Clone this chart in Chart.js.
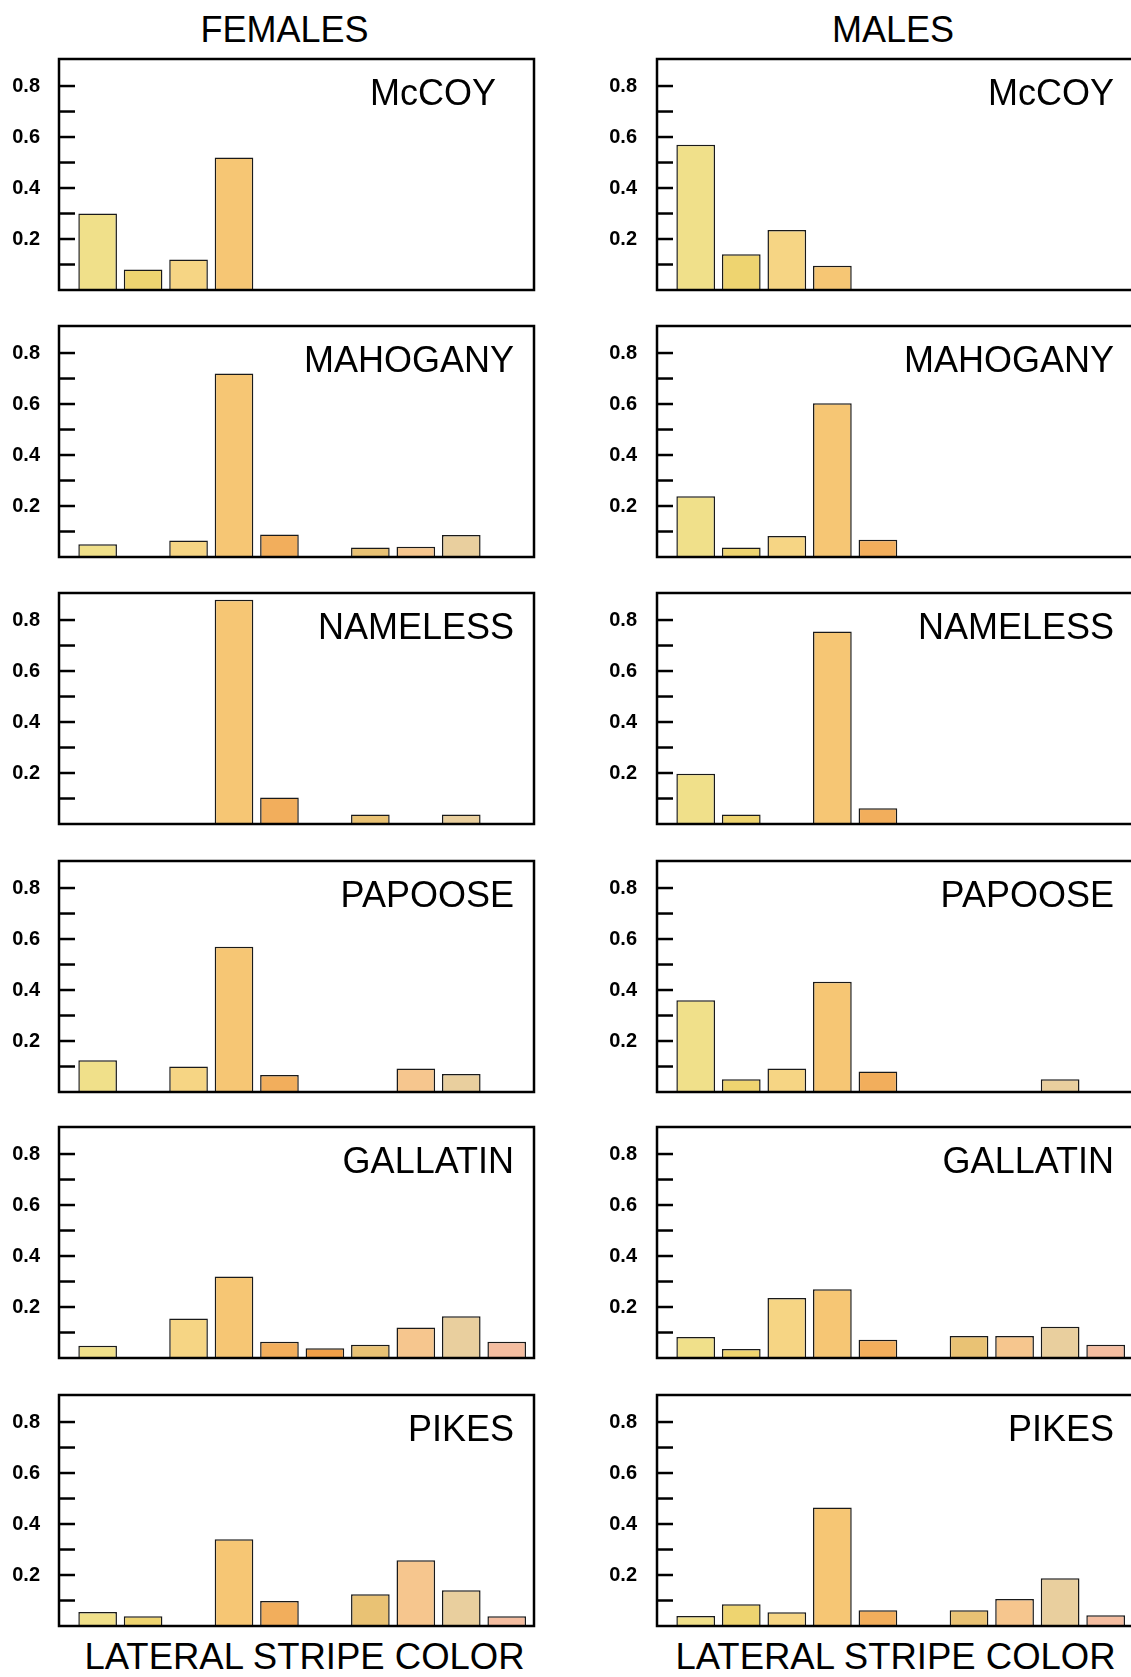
<!DOCTYPE html>
<html>
<head>
<meta charset="utf-8">
<script src="https://cdn.jsdelivr.net/npm/chart.js@4.4.1/dist/chart.umd.min.js"></script>
<style>
  html, body { margin:0; padding:0; background:#fff; }
  body { width:1131px; height:1677px; overflow:hidden; position:relative; font-family:"Liberation Sans", Arial, sans-serif; color:#000; }
  canvas { position:absolute; }
  .txt { position:absolute; font-size:36px; line-height:36px; white-space:nowrap; transform:translateX(-50%); }
  .xt { font-size:36.5px; }
</style>
</head>
<body>
<div class="txt" id="hF" style="left:284.5px; top:11.5px;"></div>
<div class="txt" id="hM" style="left:893px; top:11.5px;"></div>
<div class="txt xt" id="xF" style="left:304.5px; top:1639px;"></div>
<div class="txt xt" id="xM" style="left:895.5px; top:1639px;"></div>
<script>
// ---------- DATA ----------
const colorClasses = [1, 2, 3, 4, 5, 6, 7, 8, 9, 10];           // lateral stripe colour classes (x categories)
const populations  = ['McCOY', 'MAHOGANY', 'NAMELESS', 'PAPOOSE', 'GALLATIN', 'PIKES'];
const sexes        = ['FEMALES', 'MALES'];
const xAxisTitle   = 'LATERAL STRIPE COLOR';
const yTickLabels  = [0.2, 0.4, 0.6, 0.8];
const yTickMarks   = [0.1, 0.2, 0.3, 0.4, 0.5, 0.6, 0.7, 0.8];

const femaleMcCoy    = [0.30, 0.08, 0.12, 0.52, null, null, null, null, null, null];
const femaleMahogany = [0.05, null, 0.065, 0.72, 0.088, null, 0.037, 0.04, 0.086, null];
const femaleNameless = [null, null, null, 0.88, 0.104, null, 0.037, null, 0.037, null];
const femalePapoose  = [0.125, null, 0.10, 0.57, 0.067, null, null, 0.092, 0.071, null];
const femaleGallatin = [0.048, null, 0.155, 0.32, 0.064, 0.038, 0.052, 0.12, 0.164, 0.064];
const femalePikes    = [0.055, 0.038, null, 0.34, 0.098, null, 0.125, 0.258, 0.14, 0.038];

const maleMcCoy      = [0.57, 0.14, 0.235, 0.095, null, null, null, null, null, null];
const maleMahogany   = [0.238, 0.037, 0.082, 0.603, 0.068, null, null, null, null, null];
const maleNameless   = [0.197, 0.037, null, 0.755, 0.062, null, null, null, null, null];
const malePapoose    = [0.36, 0.05, 0.092, 0.432, 0.08, null, null, null, 0.05, null];
const maleGallatin   = [0.082, 0.035, 0.235, 0.27, 0.072, null, 0.086, 0.086, 0.123, 0.052];
const malePikes      = [0.039, 0.085, 0.054, 0.465, 0.062, null, 0.062, 0.106, 0.187, 0.042];

const femaleSeries = [femaleMcCoy, femaleMahogany, femaleNameless, femalePapoose, femaleGallatin, femalePikes];
const maleSeries   = [maleMcCoy, maleMahogany, maleNameless, malePapoose, maleGallatin, malePikes];

// ---------- STYLE / LAYOUT ----------
const stripeColors = ['#F0E08A', '#EED470', '#F6D584', '#F6C674', '#F2AE5C',
                      '#F09F48', '#E9C274', '#F6C68E', '#E9CF9E', '#F4BDA0'];
const rowTops = [59, 325.5, 593, 860.5, 1127, 1394.5];
const PLOT_H = 231, PAD = 20;
const columns = [
  { left: 0,   width: 560, axisW: 59, labelPad: 19, padRight: 26, insets: [38, 20, 20, 20, 20, 20] },
  { left: 600, width: 533, axisW: 57, labelPad: 20, padRight: 0,  insets: [19, 19, 19, 19, 19, 19] }
];
const FONT = '"Liberation Sans", Arial, sans-serif';

document.getElementById('hF').textContent = sexes[0];
document.getElementById('hM').textContent = sexes[1];
document.getElementById('xF').textContent = xAxisTitle;
document.getElementById('xM').textContent = xAxisTitle;

const panelDeco = {
  id: 'panelDeco',
  afterDraw(chart, args, o) {
    const { ctx, chartArea: a, scales: { y } } = chart;
    ctx.save();
    ctx.strokeStyle = '#000';
    ctx.lineWidth = 2.5;
    yTickMarks.forEach(v => {
      const py = y.getPixelForValue(v);
      ctx.beginPath();
      ctx.moveTo(a.left, py);
      ctx.lineTo(a.left + 16, py);
      ctx.stroke();
    });
    ctx.lineWidth = 2.5;
    ctx.strokeRect(a.left, a.top, a.right - a.left, a.bottom - a.top);
    ctx.fillStyle = '#000';
    ctx.font = '36px ' + FONT;
    ctx.textAlign = 'right';
    ctx.textBaseline = 'alphabetic';
    ctx.fillText(o.title, a.right - o.inset, a.top + 46);
    ctx.restore();
  }
};

Chart.defaults.font.family = FONT;

[femaleSeries, maleSeries].forEach((seriesList, c) => {
  const col = columns[c];
  seriesList.forEach((vals, r) => {
    const cv = document.createElement('canvas');
    const h = PLOT_H + 2 * PAD;
    cv.width = col.width; cv.height = h;
    cv.style.left = col.left + 'px';
    cv.style.top = (rowTops[r] - PAD) + 'px';
    cv.style.width = col.width + 'px'; cv.style.height = h + 'px';
    document.body.appendChild(cv);

    new Chart(cv, {
      type: 'bar',
      data: {
        datasets: [{
          data: colorClasses.map((k, i) => ({ x: i, y: vals[i] })),
          backgroundColor: stripeColors,
          borderColor: '#1a1a1a',
          borderWidth: 1.5,
          categoryPercentage: 1.0,
          barPercentage: 0.85
        }]
      },
      options: {
        responsive: false,
        animation: false,
        devicePixelRatio: 1,
        layout: { padding: { left: 0, right: col.padRight, top: PAD, bottom: PAD } },
        plugins: {
          legend: { display: false },
          tooltip: { enabled: false },
          panelDeco: { title: populations[r], inset: col.insets[r] }
        },
        scales: {
          x: {
            type: 'linear', min: -0.85, max: 9.6, display: false, offset: false,
            afterFit(s) { s.paddingLeft = 0; s.paddingRight = 0; s.paddingTop = 0; s.paddingBottom = 0; }
          },
          y: {
            min: 0, max: 0.906,
            afterFit(s) { s.width = col.axisW; s.paddingTop = 0; s.paddingBottom = 0; s.paddingLeft = 0; s.paddingRight = 0; },
            grid: { display: false, drawTicks: false },
            border: { display: false },
            ticks: {
              stepSize: 0.1,
              autoSkip: false,
              padding: col.labelPad,
              color: '#000',
              font: { size: 20, weight: 'bold', family: FONT },
              callback(v) {
                const hit = yTickLabels.find(t => Math.abs(t - v) < 1e-6);
                return hit === undefined ? '' : hit.toFixed(1);
              }
            }
          }
        }
      },
      plugins: [panelDeco]
    });
  });
});
</script>
</body>
</html>
